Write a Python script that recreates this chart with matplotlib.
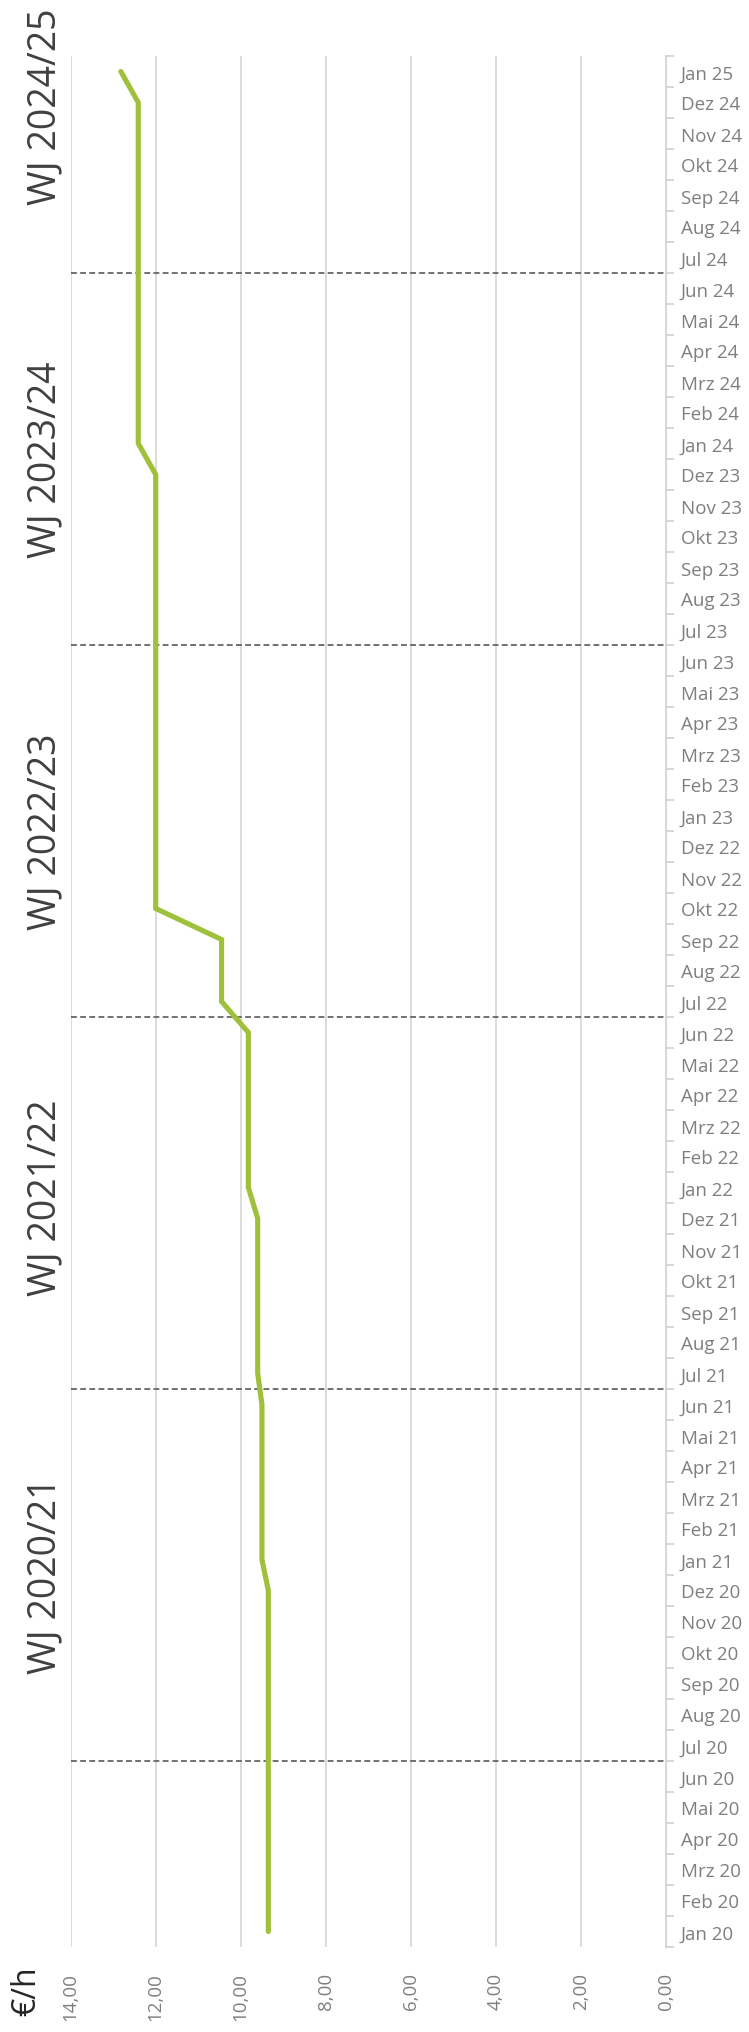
import matplotlib
matplotlib.use("Agg")
import matplotlib.pyplot as plt
import numpy as np

plt.rcParams['font.family'] = ['Open Sans', 'DejaVu Sans']

# ---- data ----
month_abbr = ["Jan", "Feb", "Mrz", "Apr", "Mai", "Jun", "Jul", "Aug", "Sep", "Okt", "Nov", "Dez"]
years = [20, 21, 22, 23, 24, 25]
months = [f"{m} {y}" for y in years for m in month_abbr][:61]  # Jan 20 .. Jan 25

wage = ([9.35] * 12 + [9.50] * 6 + [9.60] * 6 + [9.82] * 6 + [10.45] * 3
        + [12.00] * 15 + [12.41] * 12 + [12.82] * 1)

value_ticks = [0, 2, 4, 6, 8, 10, 12, 14]
value_tick_labels = ["0,00", "2,00", "4,00", "6,00", "8,00", "10,00", "12,00", "14,00"]

fiscal_years = ["WJ 2020/21", "WJ 2021/22", "WJ 2022/23", "WJ 2023/24", "WJ 2024/25"]
fy_start_idx = [5.5, 17.5, 29.5, 41.5, 53.5]   # boundary between Jun and Jul
unit_label = "€/h"

# ---- figure ----
W, H = 749, 2033
fig = plt.figure(figsize=(W / 100, H / 100), dpi=100)
left_px, right_px, top_px, bottom_px = 70.7, 665.7, 57, 1948
ax = fig.add_axes([left_px / W, (H - bottom_px) / H,
                   (right_px - left_px) / W, (bottom_px - top_px) / H])

n = len(months)
idx = np.arange(n)
ax.set_xlim(14, 0)
ax.set_ylim(-0.5, n - 0.5)

# gridlines
for v in value_ticks[1:]:
    ax.axvline(v, color="#d9d9d9", lw=1.3, zorder=0)

# fiscal year separators
for b in fy_start_idx:
    ax.axhline(b, color="#595959", lw=1.2, ls=(0, (3.5, 2)), zorder=1)

# line
ax.plot(wage, idx, color="#9fc03a", lw=3.7, solid_capstyle="round",
        solid_joinstyle="miter", zorder=3)

# spines
for s in ["top", "left", "bottom"]:
    ax.spines[s].set_visible(False)
ax.spines["right"].set_color("#d0d0d0")
ax.spines["right"].set_linewidth(1.2)

# category axis on the right
ax.yaxis.tick_right()
ax.set_yticks(idx)
ax.set_yticklabels(months, fontsize=13.5, color="#7f7f7f")
ax.set_yticks(np.arange(-0.5, n, 1.0), minor=True)
ax.tick_params(axis="y", which="major", length=0, pad=11)
ax.tick_params(axis="y", which="minor", length=6, width=1.2, color="#d0d0d0", direction="out")

# value axis on the bottom
ax.set_xticks(value_ticks)
ax.set_xticklabels(value_tick_labels, rotation=90, fontsize=13.5, color="#7f7f7f")
ax.tick_params(axis="x", length=0, pad=18)

# fiscal year labels (last one nudged so it stays inside the figure)
offsets = [6, 6.2, 6, 6, 5.4]
for lab, b, off in zip(fiscal_years, fy_start_idx, offsets):
    ax.text(14.6, b + off, lab, rotation=90, ha="center", va="center",
            fontsize=27, color="#404040", clip_on=False)

# unit label
fig.text(27 / W, 1 - 1991 / H, unit_label, rotation=90, ha="center", va="center",
         fontsize=23, color="#262626")

fig.savefig("out.png", dpi=100)
